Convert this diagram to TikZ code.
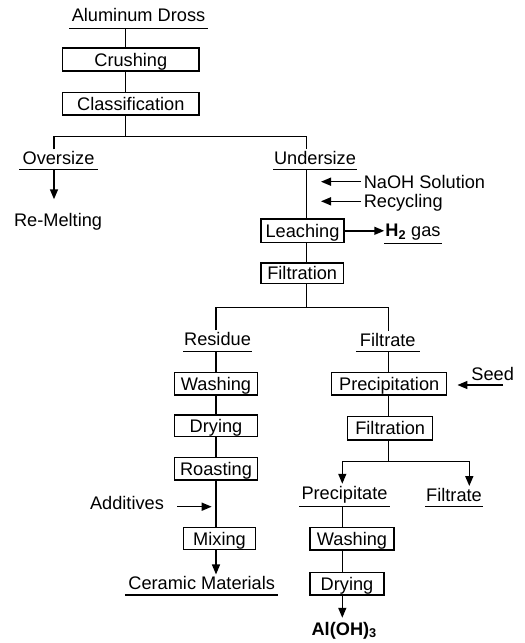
\documentclass[tikz,border=0pt]{standalone}
\usepackage{fontspec}
\setmainfont{Liberation Sans}
\usetikzlibrary{arrows.meta}
\begin{document}
\begin{tikzpicture}[x=1pt,y=-1pt, line width=1.5pt,
  every node/.style={font=\fontsize{18.2}{20}\selectfont},
  box/.style={draw, inner sep=0pt, text height=13pt, text depth=0pt},
  lab/.style={inner sep=0pt, anchor=base, text height=14.5pt},
  txt/.style={inner sep=0pt, anchor=base west, text height=13pt},
  arr/.style={-{Triangle[length=10pt,width=8pt]}}]
\useasboundingbox (0,0) rectangle (525,643);

% column coordinates
\coordinate (xA) at (125.7,0);
\coordinate (xO) at (54,0);
\coordinate (xU) at (306.7,0);
\coordinate (xL) at (216,0);
\coordinate (xF) at (388.3,0);
\coordinate (xP) at (342.3,0);
\coordinate (xQ) at (469.3,0);
\coordinate (b1) at (125.7,136.7);
\coordinate (b2) at (306.7,307.3);
\coordinate (b3) at (388.3,461.7);

% boxes
\node[box, minimum width=136.3pt, minimum height=23pt] (crush) at (130.8,59.5) {Crushing};
\node[box, minimum width=136.3pt, minimum height=22.3pt] (classif) at (130.8,103.8) {Classification};
\node[box, minimum width=83pt, minimum height=23.7pt] (leach) at (302.5,230.8) {Leaching};
\node[box, minimum width=82.3pt, minimum height=20.5pt] (filtA) at (302.2,273.3) {Filtration};
\node[box, minimum width=83.4pt, minimum height=22.3pt] (washL) at (216,383.8) {Washing};
\node[box, minimum width=83.4pt, minimum height=21.7pt] (dryL) at (216,425.8) {Drying};
\node[box, minimum width=83.4pt, minimum height=22.3pt] (roastL) at (216,468.8) {Roasting};
\node[box, minimum width=72.4pt, minimum height=21.6pt] (mixL) at (219.5,538.5) {Mixing};
\node[box, minimum width=115pt, minimum height=22.3pt] (precip) at (389.2,383.8) {Precipitation};
\node[box, minimum width=85pt, minimum height=23.3pt] (filtB) at (390.2,428.3) {Filtration};
\node[box, minimum width=84pt, minimum height=22.3pt] (washR) at (352,538.8) {Washing};
\node[box, minimum width=74pt, minimum height=22.7pt] (dryR) at (347,583.7) {Drying};

% underlined labels
\node[lab, minimum width=137pt, text depth=6.2pt] (dross) at (138.5,21.3) {Aluminum Dross};
\node[lab, minimum width=77pt, text depth=4.3pt] (over) at (58.5,164.7) {Oversize};
\node[lab, minimum width=82pt, text depth=4.3pt] (under) at (315,164.7) {Undersize};
\node[lab, minimum width=56pt, text depth=6.4pt] (htwo) at (413,236.3) {\textbf{H\textsubscript{2}} gas};
\node[lab, minimum width=67pt, text depth=5.3pt] (residue) at (217.5,345.7) {Residue};
\node[lab, minimum width=62.3pt, text depth=4.5pt] (filtrateA) at (387.8,346.5) {Filtrate};
\node[lab, minimum width=89pt, text depth=7pt] (precipitate) at (344.5,499) {Precipitate};
\node[lab, minimum width=56.3pt, text depth=4.7pt] (filtrateB) at (454,501.3) {Filtrate};
\node[lab, minimum width=152pt, text depth=4.6pt] (ceramic) at (201.7,589.7) {Ceramic Materials};
\foreach \n in {dross,over,under,htwo,residue,filtrateA,precipitate,filtrateB,ceramic}
  \draw[line width=1.3pt] (\n.south west) -- (\n.south east);

% plain texts
\node[txt] (remelt) at (13.3,226) {Re-Melting};
\node[txt] (naoh) at (363,188.7) {NaOH Solution};
\node[txt] (recyc) at (363,207) {Recycling};
\node[txt] (seed) at (470.7,380) {Seed};
\node[txt] (additives) at (89.3,509.7) {Additives};
\node[lab, text depth=4pt] (aloh) at (344.2,635) {\textbf{Al(OH)\textsubscript{3}}};

% connectors
\draw (dross.south -| xA) -- (crush.north -| xA);
\draw (crush.south -| xA) -- (classif.north -| xA);
\draw (classif.south -| xA) -- (b1);
\draw (over.north -| xO) |- (b1) -| (under.north -| xU);
\draw[arr, shorten >=13pt] (over.south -| xO) -- (remelt.north -| xO);
\draw (under.south -| xU) -- (leach.north -| xU);
\coordinate (naohS) at ([xshift=-2pt,yshift=7pt]naoh.base west);
\draw[arr, shorten >=14.3pt] (naohS) -- (naohS -| xU);
\coordinate (recycS) at ([xshift=-2pt,yshift=5.7pt]recyc.base west);
\draw[arr, shorten >=14.3pt] (recycS) -- (recycS -| xU);
\draw[arr] (leach.east) -- (leach.east -| htwo.west);
\draw (leach.south -| xU) -- (filtA.north -| xU);
\draw (filtA.south -| xU) -- (b2);
\draw (residue.north -| xL) |- (b2) -| (filtrateA.north -| xF);
\draw (residue.south -| xL) -- (washL.north -| xL);
\draw (washL.south -| xL) -- (dryL.north -| xL);
\draw (dryL.south -| xL) -- (roastL.north -| xL);
\draw (roastL.south -| xL) -- (mixL.north -| xL);
\coordinate (addS) at ([xshift=12.4pt,yshift=3pt]additives.base east);
\draw[arr, shorten >=4.3pt] (addS) -- (addS -| xL);
\draw[arr] (mixL.south -| xL) -- (ceramic.north -| xL);
\draw (filtrateA.south -| xF) -- (precip.north -| xF);
\coordinate (seedS) at (503,385);
\draw[arr, shorten >=10pt] (seedS) -- (seedS -| precip.east);
\draw (precip.south -| xF) -- (filtB.north -| xF);
\draw (filtB.south -| xF) -- (b3);
\draw[arr] (b3) -| (precipitate.north -| xP);
\draw[arr] (b3) -| (filtrateB.north -| xQ);
\draw (precipitate.south -| xP) -- (washR.north -| xP);
\draw (washR.south -| xP) -- (dryR.north -| xP);
\draw[arr, shorten >=2pt] (dryR.south -| xP) -- (aloh.north -| xP);
\end{tikzpicture}
\end{document}
